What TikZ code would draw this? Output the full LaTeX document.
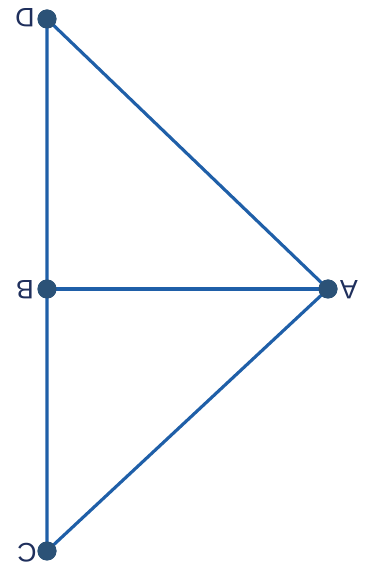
\documentclass[tikz,border=0pt]{standalone}
\usepackage{fontspec}
\setmainfont{Liberation Sans}
\usepackage{tikz}
\usetikzlibrary{positioning}
\definecolor{edgeblue}{HTML}{1F5FA8}
\definecolor{dotblue}{HTML}{2B5277}
\definecolor{txtblue}{HTML}{1F2F5C}
\tikzset{
  pt/.style={circle,fill=dotblue,inner sep=0pt,minimum size=0.95cm},
  lbl/.style={text=txtblue,font=\fontsize{38}{42}\selectfont,rotate=180,inner sep=0pt},
  seg/.style={draw=edgeblue,line width=4.5pt},
}
\begin{document}
\begin{tikzpicture}
  \useasboundingbox (0,0) rectangle (18.35,28.65);
  % points
  \node[pt] (D) at (2.35,27.7) {};
  \node[pt] (B) at (2.35,14.2) {};
  \node[pt] (A) at (16.4,14.2) {};
  \node[pt] (C) at (2.35,1.1) {};
  % edges
  \draw[seg] (D.center) -- (B.center) -- (C.center) -- (A.center) -- (D.center);
  \draw[seg] (B.center) -- (A.center);
  \foreach \p in {D,B,A,C} \node[pt] at (\p) {};
  % labels (upside down)
  \node[lbl] (lD) at (1.25,27.75) {D};
  \node[lbl] (lB) at (1.25,14.15) {B};
  \node[lbl] (lA) at (17.45,14.15) {A};
  \node[lbl] (lC) at (1.35,1.0) {C};
\end{tikzpicture}
\end{document}
